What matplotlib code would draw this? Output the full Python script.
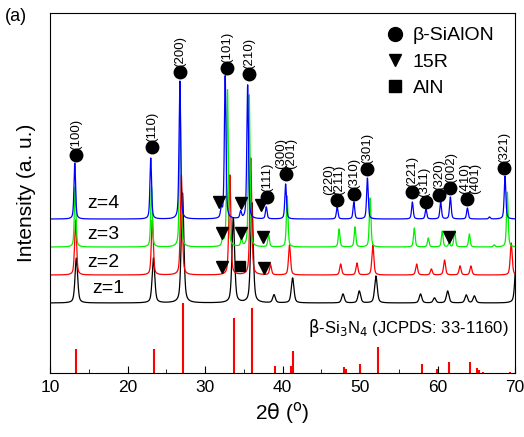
import numpy as np
import matplotlib.pyplot as plt
from matplotlib.lines import Line2D
from matplotlib.ticker import MultipleLocator

plt.rcParams['font.family'] = ['Liberation Sans', 'DejaVu Sans']

# peak lists: 2theta position, height (a.u.) for each z
pos_z1 = [13.4, 23.35, 27.1, 33.65, 36.05, 38.9, 41.3, 47.8, 49.9, 52.05, 57.8, 59.6, 61.3, 63.7, 64.75, 70.15]
hgt_z1 = [45, 45, 110, 85, 100, 8, 25, 9, 12, 27, 9, 5, 12, 8, 7, 45]
pos_z2 = [13.3, 23.2, 26.95, 33.2, 35.9, 38.45, 40.9, 47.5, 49.6, 51.65, 57.3, 59.2, 60.9, 62.9, 64.3, 69.5]
hgt_z2 = [55, 55, 100, 100, 117, 10, 30, 11, 12, 30, 11, 6, 15, 9, 9, 32]
pos_z3 = [13.25, 23.1, 26.8, 32.3, 32.9, 34.7, 35.7, 38.2, 40.6, 47.3, 49.35, 51.3, 57.0, 58.8, 60.6, 61.5, 62.2, 64.1, 67.3, 69.0]
hgt_z3 = [60, 60, 145, 8, 157, 7, 152, 12, 51, 18, 20, 49, 19, 9, 16, 4, 16, 13, 2, 55]
pos_z4 = [13.2, 23.0, 26.75, 32.1, 32.6, 34.6, 35.5, 37.9, 40.4, 47.05, 49.2, 50.95, 56.75, 58.5, 60.4, 61.65, 63.85, 66.7, 68.7]
hgt_z4 = [56, 61, 138, 9, 143, 7, 134, 12, 35, 12, 17, 41, 17, 10, 17, 22, 11, 2, 43]

offsets = [70, 98, 126, 154]
widths = [0.4, 0.3, 0.25, 0.25]
colors = ['black', '#ff0000', '#00f000', '#0000ff']
zlabels = ['z=1', 'z=2', 'z=3', 'z=4']
zlabel_x = [15.4, 14.8, 14.8, 14.8]
zlabel_y = [85, 111, 139, 170]

# beta-Si3N4 reference, JCPDS 33-1160
ref_pos = [13.4, 23.4, 27.1, 33.7, 36.1, 39.0, 41.1, 41.4, 47.9, 48.2, 50.0, 52.3, 58.0, 59.9, 61.5, 64.2, 65.1, 65.3, 65.8, 69.4]
ref_hgt = [24, 24, 70, 55, 65, 7, 7, 22, 6, 4, 9, 26, 9, 4, 11, 11, 5, 3, 1, 1]

# beta-SiAlON indexed peaks (marker position)
hkl_pos = [13.35, 23.16, 26.77, 32.8, 35.7, 37.96, 40.45, 46.99, 49.2, 50.95, 56.67, 58.47, 60.2, 61.6, 63.85, 68.6]
hkl_y = [218, 226, 301, 305, 299, 176, 199, 173, 179, 204, 181, 171, 178, 185, 174, 205]
hkl_txt = ['(100)', '(110)', '(200)', '(101)', '(210)', '(111)', '(300)\n(201)', '(220)\n(211)', '(310)',
           '(301)', '(221)', '(311)', '(320)', '(002)', '(410)\n(401)', '(321)']
hkl_dx = [0, 0, 0, 0, 0, 0, 0, -2, 0.5, 0, 0, -1, -0.3, 0.8, 2, 0]

# 15R and AlN markers
r15_pos = [31.8, 34.6, 37.2, 32.15, 34.6, 37.5, 32.15, 37.6, 61.5]
r15_y = [171, 170, 168, 140, 140, 136, 106, 105, 136]
aln_pos = [34.5]
aln_y = [107]


def peak(x, c, h, w, eta=0.5):
    g = np.exp(-4 * np.log(2) * ((x - c) / w) ** 2)
    l = 1.0 / (1 + 4 * ((x - c) / w) ** 2)
    return h * (eta * l + (1 - eta) * g)


x = np.linspace(10, 70, 6001)
series = [(pos_z1, hgt_z1), (pos_z2, hgt_z2), (pos_z3, hgt_z3), (pos_z4, hgt_z4)]

fig = plt.figure(figsize=(5.24, 4.37), dpi=100)
ax = fig.add_axes([0.0954, 0.1465, 0.8876, 0.8235])

for i, (p, h) in enumerate(series):
    y = np.full_like(x, offsets[i], dtype=float)
    for c, hh in zip(p, h):
        y += peak(x, c, hh, widths[i])
    ax.plot(x, y, color=colors[i], lw=0.9)
    ax.text(zlabel_x[i], zlabel_y[i], zlabels[i], fontsize=14, ha='left', va='center')

ax.vlines(ref_pos, 0, ref_hgt, color='#ff0000', lw=1.5)
ax.text(69.2, 45, r'$\mathrm{\beta}$-Si$_3$N$_4$ (JCPDS: 33-1160)', fontsize=12, ha='right', va='center')

ax.plot(hkl_pos, hkl_y, 'o', color='black', ms=9, ls='none')
for p, yy, t, dx in zip(hkl_pos, hkl_y, hkl_txt, hkl_dx):
    ax.annotate(t, (p, yy), xytext=(dx, 3.5), textcoords='offset points', rotation=90,
                ha='center', va='bottom', fontsize=9.5, linespacing=0.72)
ax.plot(r15_pos, r15_y, 'v', color='black', ms=9, ls='none')
ax.plot(aln_pos, aln_y, 's', color='black', ms=7.5, ls='none')

handles = [Line2D([], [], marker='o', color='black', ls='none', ms=10),
           Line2D([], [], marker='v', color='black', ls='none', ms=9),
           Line2D([], [], marker='s', color='black', ls='none', ms=8)]
ax.legend(handles, ['β-SiAlON', '15R', 'AlN'], loc='upper right', frameon=False, fontsize=14,
          handlelength=0.8, handletextpad=0.5, labelspacing=0.45, borderaxespad=0.3,
          bbox_to_anchor=(0.985, 1.0))

ax.set_xlim(10, 70)
ax.set_ylim(0, 360)
ax.set_yticks([])
ax.xaxis.set_major_locator(MultipleLocator(10))
ax.xaxis.set_minor_locator(MultipleLocator(5))
ax.tick_params(axis='x', which='major', direction='in', length=5, labelsize=12.5, pad=5)
ax.tick_params(axis='x', which='minor', direction='in', length=3)
ax.set_xlabel(r'2$\mathrm{\theta}$ ($^\mathrm{o}$)', fontsize=15, labelpad=4)
ax.set_ylabel('Intensity (a. u.)', fontsize=15, labelpad=10)
fig.text(0.01, 0.962, '(a)', fontsize=13, ha='left', va='center')

fig.savefig('out.png', dpi=100)
